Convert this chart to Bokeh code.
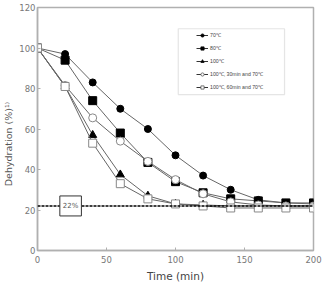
from bokeh.plotting import figure
from bokeh.models import (ColumnDataSource, Legend, LegendItem, Span, Label,
                          BoxAnnotation, FixedTicker, Range1d)
from bokeh.embed import file_html
from bokeh.resources import INLINE

# ---- data ----
time = [0, 20, 40, 60, 80, 100, 120, 140, 160, 180, 200]
d70 = [100, 97, 83, 70, 60, 47, 37, 30, 25, 23.5, 23]
d80 = [100, 94, 74, 58, 43.5, 34, 28.5, 25.5, 24.5, 23.5, 23.5]
d100 = [100, 81, 57, 37.5, 27, 23, 22.5, 22, 22, 22, 22]
d100_30_70 = [100, 81.5, 65.5, 54, 44, 35, 28, 24, 22.5, 22, 22]
d100_60_70 = [100, 81, 53, 33, 25.5, 23, 22, 21, 21, 21, 21]
series_labels = ["70\u2103", "80\u2103", "100\u2103",
                 "100\u2103, 30min and 70\u2103", "100\u2103, 60min and 70\u2103"]
x_ticks = [0, 50, 100, 150, 200]
y_ticks = [0, 20, 40, 60, 80, 100, 120]
ref_level = 22
ref_text = "22%"
ref_x = 24
# legend frame (data units)
leg_box = dict(left=102, right=179, bottom=77, top=109.5)

FONT = "DejaVu Sans"
LINE = "#666666"
NAN = float("nan")

p = figure(width=325, height=284, output_backend="svg", toolbar_location=None,
           x_range=Range1d(0, 200), y_range=Range1d(0, 120),
           min_border_left=36, min_border_right=12, min_border_top=7,
           min_border_bottom=33)
p.background_fill_color = "white"
p.border_fill_color = "white"
p.outline_line_color = "#b0b0b0"
p.outline_line_width = 1.5
p.grid.visible = False

for ax in (p.xaxis[0], p.yaxis[0]):
    ax.axis_line_color = "#b0b0b0"
    ax.axis_line_width = 1.5
    ax.major_tick_line_color = "#b0b0b0"
    ax.major_tick_in = 3
    ax.major_tick_out = 0
    ax.minor_tick_line_color = None
    ax.major_label_text_font = FONT
    ax.major_label_text_font_size = "8.5px"
    ax.major_label_text_color = "#777777"
    ax.axis_label_text_font = FONT
    ax.axis_label_text_font_style = "normal"
    ax.axis_label_text_color = "#555555"

p.xaxis.ticker = FixedTicker(ticks=x_ticks)
p.yaxis.ticker = FixedTicker(ticks=y_ticks)
p.xaxis.axis_label = "Time (min)"
p.yaxis.axis_label = "Dehydration (%)\u00b9\u207e" + "\u00a0" * 10
p.xaxis.axis_label_text_font_size = "10.5px"
p.yaxis.axis_label_text_font_size = "9.5px"
p.xaxis.axis_label_text_color = "#444444"
p.xaxis.major_label_standoff = 5
p.yaxis.major_label_standoff = 2
p.xaxis.axis_label_standoff = 4
p.yaxis.axis_label_standoff = 2

# reference line at 22%
p.add_layout(Span(location=ref_level, dimension="width", line_color="black",
                  line_width=1.6, line_dash="3 1"))
p.add_layout(Label(x=ref_x, y=ref_level, text=ref_text, text_align="center",
                   text_baseline="middle", text_font=FONT, text_font_size="7px",
                   text_color="#555555", border_line_color="#333333",
                   border_line_width=1, background_fill_color="white",
                   padding=(3, 6)))

series = [d70, d80, d100, d100_30_70, d100_60_70]
markers = ["circle", "square", "triangle", "circle", "square"]
fills = ["black", "black", "black", "white", "white"]
edges = ["black", "black", "black", "#888888", "#888888"]
sizes = [7, 8, 8, 8, 8]

items = []
for ys, mk, fc, ec, sz, lab in zip(series, markers, fills, edges, sizes, series_labels):
    src = ColumnDataSource(dict(x=time, y=ys))
    p.line("x", "y", source=src, line_color=LINE, line_width=1)
    p.scatter("x", "y", source=src, marker=mk, size=sz, fill_color=fc,
              line_color=ec, line_width=1)
    # small glyphs used only for the legend (no visible data)
    esrc = ColumnDataSource(dict(x=[NAN], y=[NAN]))
    lr = p.line("x", "y", source=esrc, line_color="#333333", line_width=1)
    sr = p.scatter("x", "y", source=esrc, marker=mk, size=4, fill_color=fc,
                   line_color="#555555" if fc == "white" else "black", line_width=0.8)
    items.append(LegendItem(label=lab, renderers=[lr, sr]))

p.add_layout(BoxAnnotation(left=leg_box["left"], right=leg_box["right"],
                           bottom=leg_box["bottom"], top=leg_box["top"],
                           fill_color="white", fill_alpha=1,
                           line_color="#aaaaaa", line_width=1.2, level="underlay"))

legend = Legend(items=items, location=(159, 159), orientation="vertical",
                border_line_color=None, background_fill_alpha=0,
                label_text_font="Liberation Sans", label_text_font_size="5.2px",
                label_text_color="#444444", glyph_width=12, glyph_height=8,
                label_height=8, spacing=5, padding=3, margin=0,
                label_standoff=2)
p.add_layout(legend)

open("out.html", "w").write(file_html(p, INLINE))
